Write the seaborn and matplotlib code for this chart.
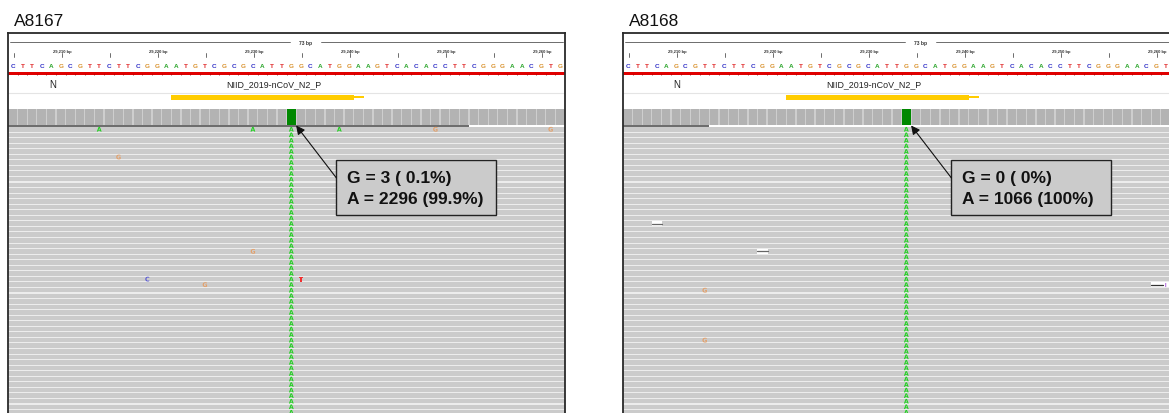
import numpy as np
import pandas as pd
import matplotlib.pyplot as plt
import matplotlib.patches as mpatches
import seaborn as sns

# ── Configuração visual global ──────────────────────────────────────────────
sns.set_theme(style="white")
plt.rcParams["font.family"] = ["Liberation Sans", "DejaVu Sans"]

# ── Dados ────────────────────────────────────────────────────────────────────
SAMPLES = ["A8167", "A8168"]
REF_SEQ = "CTTCAGCGTTCTTCGGAATGTCGCGCATTGGCATGGAAGTCACACCTTCGGGAACGTG"
START = 29205
TICK_POS = [29210, 29220, 29230, 29240, 29250, 29260]
TICK_LABELS = ["29,210 bp", "29,220 bp", "29,230 bp", "29,240 bp", "29,250 bp", "29,260 bp"]
SPAN_LABEL = "73 bp"
SPAN_LABEL_POS = 29236
GENE_NAME = "N"
GENE_LABEL_POS = [29209.7, 29210.6]
PROBE_NAME = "NIID_2019-nCoV_N2_P"
PROBE_LABEL_POS = [29232.7, 29231.1]
PROBE_START, PROBE_THICK_END, PROBE_END = 29222, 29241, 29242.1
SNV_POS = 29234
G_COUNT = [3, 0]
A_COUNT = [2296, 1066]
G_PCT = ["0.1%", "0%"]
A_PCT = ["99.9%", "100%"]
N_ROWS = [53, 53]
DOWNSAMPLE_END = [29253, 29214]

# mismatches nas leituras (linha, posição, base)
MM_ROW = [[0, 0, 0, 0, 0, 5, 22, 27, 27, 28], [29, 38]]
MM_POS = [[29214, 29230, 29239, 29249, 29261, 29216, 29230, 29219, 29235, 29225],
          [29213, 29213]]
MM_BASE = [["A", "A", "A", "G", "G", "G", "G", "C", "T", "G"], ["G", "G"]]
DEL_ROW = [[], [17, 22]]
DEL_POS = [[], [29208, 29219]]
INS_ROW = [[], [28]]
INS_POS = [[], [29260]]

SEQ_COLORS = {"A": "#2aa52a", "C": "#3232c8", "G": "#d9922e", "T": "#e02828"}
READ_COLORS = {"A": "#22d022", "C": "#5a5ad2", "G": "#e3a06a", "T": "#f03030"}

# ── Layout (px, relativo ao topo do painel) ─────────────────────────────────
FIG_W, FIG_H = 1169, 414
PANEL_X = [8, 623]
PANEL_TOP, PANEL_W, PANEL_H = 34, 557, 420
Y_RULER, Y_TICKLABEL, Y_TICK = 9.3, 17.6, (20, 24)
Y_SEQ, Y_RED = 32.7, (38.6, 41.6)
Y_FEAT, Y_SEP = 51, 59.5
Y_PROBE, Y_PROBE_THIN = (61.7, 66.7), (63.2, 65.4)
Y_COV = (75.5, 91.7)
Y_DS = (91.9, 93.6)
READ_TOP, ROW_H, READ_H = 94.0, 5.55, 4.5

fig = plt.figure(figsize=(FIG_W / 100, FIG_H / 100), dpi=100)
fig.patch.set_facecolor("white")

for k, sample in enumerate(SAMPLES):
    ax = fig.add_axes([PANEL_X[k] / FIG_W, 1 - (PANEL_TOP + PANEL_H) / FIG_H,
                       PANEL_W / FIG_W, PANEL_H / FIG_H])
    x0, x1 = START, START + len(REF_SEQ)
    ax.set_xlim(x0, x1)
    ax.set_ylim(PANEL_H, 0)
    ax.set_xticks([])
    ax.set_yticks([])
    for sp in ax.spines.values():
        sp.set_color("#2a2a2a")
        sp.set_linewidth(1.3)

    fig.text((PANEL_X[k] + 6) / FIG_W, 1 - 21 / FIG_H, sample,
             fontsize=12.5, va="center", ha="left", color="#111111")

    # régua
    ax.plot([x0 + 0.2, SPAN_LABEL_POS - 1.6], [Y_RULER] * 2, color="#555555", lw=0.6)
    ax.plot([SPAN_LABEL_POS + 1.6, x1 - 0.2], [Y_RULER] * 2, color="#555555", lw=0.6)
    ax.text(SPAN_LABEL_POS, Y_RULER, SPAN_LABEL, fontsize=3.6, ha="center", va="center",
            color="#333333", fontweight="bold")
    for p, lab in zip(TICK_POS, TICK_LABELS):
        for q in (p - 5, p):
            if x0 <= q < x1:
                ax.plot([q + 0.65] * 2, Y_TICK, color="#555555", lw=0.6)
        ax.text(p + 0.65, Y_TICKLABEL, lab, fontsize=3.0, ha="center", va="center",
                color="#333333", fontweight="bold")
    if TICK_POS[-1] + 5 < x1:
        ax.plot([TICK_POS[-1] + 5.65] * 2, Y_TICK, color="#555555", lw=0.6)

    # sequência de referência (só as bases que cabem na figura)
    visible = min(len(REF_SEQ), int((FIG_W - PANEL_X[k]) / (PANEL_W / len(REF_SEQ)) + 0.4))
    for i, b in enumerate(REF_SEQ[:visible]):
        ax.text(x0 + i + 0.5, Y_SEQ, b, fontsize=4.6, fontweight="bold",
                ha="center", va="center", color=SEQ_COLORS[b])
    ax.broken_barh([(x0, x1 - x0)], (Y_RED[0], Y_RED[1] - Y_RED[0]),
                   facecolor="#e00000", edgecolor="none")
    ax.vlines(np.arange(x0, x1), Y_RED[1] - 0.8, Y_RED[1], color="#8a0000", lw=0.5)

    # anotação gene / sonda
    ax.text(GENE_LABEL_POS[k], Y_FEAT, GENE_NAME, fontsize=7, ha="center", va="center",
            color="#222222")
    ax.text(PROBE_LABEL_POS[k], Y_FEAT, PROBE_NAME, fontsize=6.4, ha="center",
            va="center", color="#222222")
    ax.plot([x0, x1], [Y_SEP, Y_SEP], color="#e4e4e4", lw=0.8)
    ax.broken_barh([(PROBE_START, PROBE_THICK_END - PROBE_START)],
                   (Y_PROBE[0], Y_PROBE[1] - Y_PROBE[0]),
                   facecolor="#ffcc00", edgecolor="none")
    ax.broken_barh([(PROBE_THICK_END, PROBE_END - PROBE_THICK_END)],
                   (Y_PROBE_THIN[0], Y_PROBE_THIN[1] - Y_PROBE_THIN[0]),
                   facecolor="#ffcc00", edgecolor="none")

    # cobertura
    cov_h = Y_COV[1] - Y_COV[0]
    ax.broken_barh([(x0, x1 - x0)], (Y_COV[0], cov_h), facecolor="#cecece",
                   edgecolor="none")
    pos = np.arange(x0, x1)
    ax.bar(pos + 0.5, cov_h, bottom=Y_COV[0], width=0.86, color="#b3b3b3",
           linewidth=0)
    tot = A_COUNT[k] + G_COUNT[k]
    a_h = cov_h * A_COUNT[k] / tot
    ax.bar(SNV_POS + 0.5, a_h, bottom=Y_COV[1] - a_h, width=0.95, color="#008800",
           linewidth=0)
    ax.bar(SNV_POS + 0.5, cov_h - a_h, bottom=Y_COV[0], width=0.95, color="#d17105",
           linewidth=0)

    # leituras
    ax.broken_barh([(x0, x1 - x0)], (READ_TOP, PANEL_H - READ_TOP),
                   facecolor="#ececec", edgecolor="none", zorder=0)
    tops = READ_TOP + ROW_H * np.arange(N_ROWS[k])
    for t in tops:
        ax.broken_barh([(x0, x1 - x0)], (t, READ_H), facecolor="#cbcbcb",
                       edgecolor="none", zorder=1)
    ax.broken_barh([(x0, DOWNSAMPLE_END[k] - x0)], (Y_DS[0], Y_DS[1] - Y_DS[0]),
                   facecolor="#6e6e6e", edgecolor="none", zorder=2)

    for r, p in zip(DEL_ROW[k], DEL_POS[k]):
        t = READ_TOP + ROW_H * r
        ax.broken_barh([(p, 1.1)], (t, READ_H), facecolor="white", edgecolor="none",
                       zorder=2)
        ax.plot([p, p + 1.1], [t + READ_H / 2] * 2, color="#666666", lw=0.9, zorder=3)
    for r, p in zip(INS_ROW[k], INS_POS[k]):
        t = READ_TOP + ROW_H * r
        ax.broken_barh([(p, 3)], (t, READ_H), facecolor="white", edgecolor="none",
                       zorder=2)
        ax.plot([p, p + 1.2], [t + READ_H / 2] * 2, color="#333333", lw=0.9, zorder=3)
        ax.text(p + 1.5, t + READ_H / 2, "I", fontsize=4, color="#9a3cd0",
                fontweight="bold", ha="center", va="center", zorder=3)

    df = pd.DataFrame({
        "row": list(range(N_ROWS[k])) + MM_ROW[k],
        "pos": [SNV_POS] * N_ROWS[k] + MM_POS[k],
        "base": ["A"] * N_ROWS[k] + MM_BASE[k],
    })
    df["y"] = READ_TOP + ROW_H * df["row"] + READ_H / 2
    df["x"] = df["pos"] + 0.5
    bases = sorted(df["base"].unique())
    sns.scatterplot(data=df, x="x", y="y", hue="base", style="base",
                    palette={b: READ_COLORS[b] for b in bases},
                    markers={b: r"$\mathbf{%s}$" % b for b in bases},
                    s=12, linewidth=0, legend=False, ax=ax, zorder=4)
    ax.set_xlabel("")
    ax.set_ylabel("")

    # caixa de contagem
    bx0, bx1 = START + 34.2, START + 50.8
    by0, by1 = 127, 182
    ax.add_patch(mpatches.Rectangle((bx0, by0), bx1 - bx0, by1 - by0,
                                    facecolor="#cbcbcb", edgecolor="#222222",
                                    lw=1.0, zorder=5))
    ax.text(bx0 + 1.15, 145, f"G = {G_COUNT[k]} ( {G_PCT[k]})", fontsize=12.5,
            fontweight="bold", va="center", ha="left", color="#111111", zorder=6)
    ax.text(bx0 + 1.15, 166, f"A = {A_COUNT[k]} ({A_PCT[k]})", fontsize=12.5,
            fontweight="bold", va="center", ha="left", color="#111111", zorder=6)
    ax.annotate("", xy=(SNV_POS + 1.0, 92.5), xytext=(bx0, 145),
                arrowprops=dict(arrowstyle="-|>", color="#111111", lw=0.8,
                                mutation_scale=13, shrinkA=0, shrinkB=0),
                zorder=6)

fig.savefig("out.png", dpi=100)
plt.close()
print("✔ out.png salvo")
